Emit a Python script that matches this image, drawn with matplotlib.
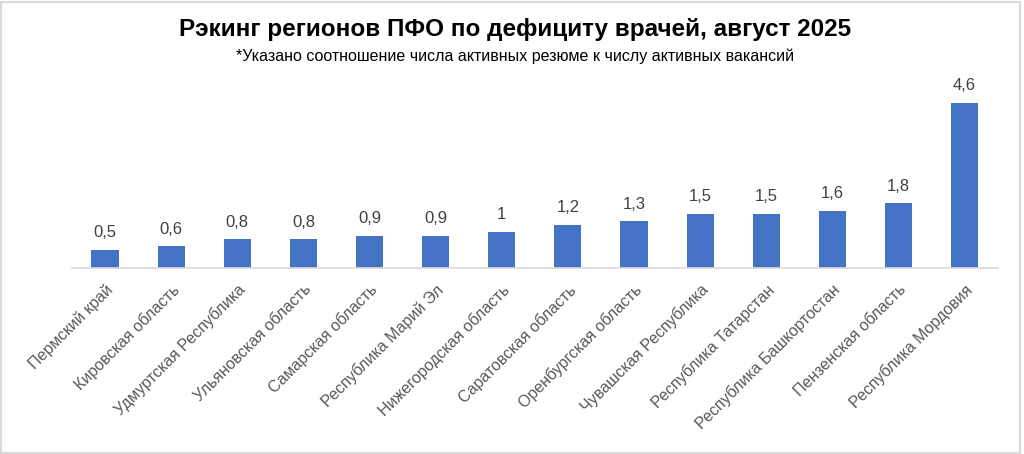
import matplotlib.pyplot as plt
from matplotlib.patches import Rectangle

regions = ['Пермский край', 'Кировская область', 'Удмуртская Республика',
           'Ульяновская область', 'Самарская область', 'Республика Марий Эл',
           'Нижегородская область', 'Саратовская область', 'Оренбургская область',
           'Чувашская Республика', 'Республика Татарстан', 'Республика Башкортостан',
           'Пензенская область', 'Республика Мордовия']
values = [0.5, 0.6, 0.8, 0.8, 0.9, 0.9, 1.0, 1.2, 1.3, 1.5, 1.5, 1.6, 1.8, 4.6]

fig = plt.figure(figsize=(10.24, 4.54), dpi=100)
ax = fig.add_axes([0.0703, 0.4097, 0.904, 0.3954])

x = range(len(values))
ax.bar(x, values, width=0.41, color='#4472C4')
for i, v in zip(x, values):
    lab = f'{v:g}'.replace('.', ',')
    ax.annotate(lab, (i, v), xytext=(0, 7), textcoords='offset points',
                ha='center', va='bottom', fontsize=12, color='#404040',
                family='Liberation Sans')

ax.set_xlim(-0.5, len(values) - 0.5)
ax.set_ylim(0, 5)
ax.set_yticks([])
for s in ['top', 'right', 'left']:
    ax.spines[s].set_visible(False)
ax.spines['bottom'].set_color('#D9D9D9')
ax.spines['bottom'].set_linewidth(1.2)
ax.set_xticks(list(x))
ax.set_xticklabels(regions, rotation=45, ha='right', rotation_mode='anchor',
                   fontsize=11.5, color='#595959', family='Liberation Sans')
ax.tick_params(axis='x', length=0, pad=10)

fig.text(0.503, 0.935, 'Рэкинг регионов ПФО по дефициту врачей, август 2025',
         ha='center', va='center', fontsize=17.5, fontweight='bold',
         family='Liberation Sans', color='black')
fig.text(0.503, 0.876, '*Указано соотношение числа активных резюме к числу активных вакансий',
         ha='center', va='center', fontsize=11.5, family='Liberation Sans', color='black')

fig.patches.append(Rectangle((0.001, 0.002), 0.995, 0.994, transform=fig.transFigure,
                             fill=False, edgecolor='#D9D9D9', linewidth=1.5))

fig.savefig('out.png', dpi=100)
